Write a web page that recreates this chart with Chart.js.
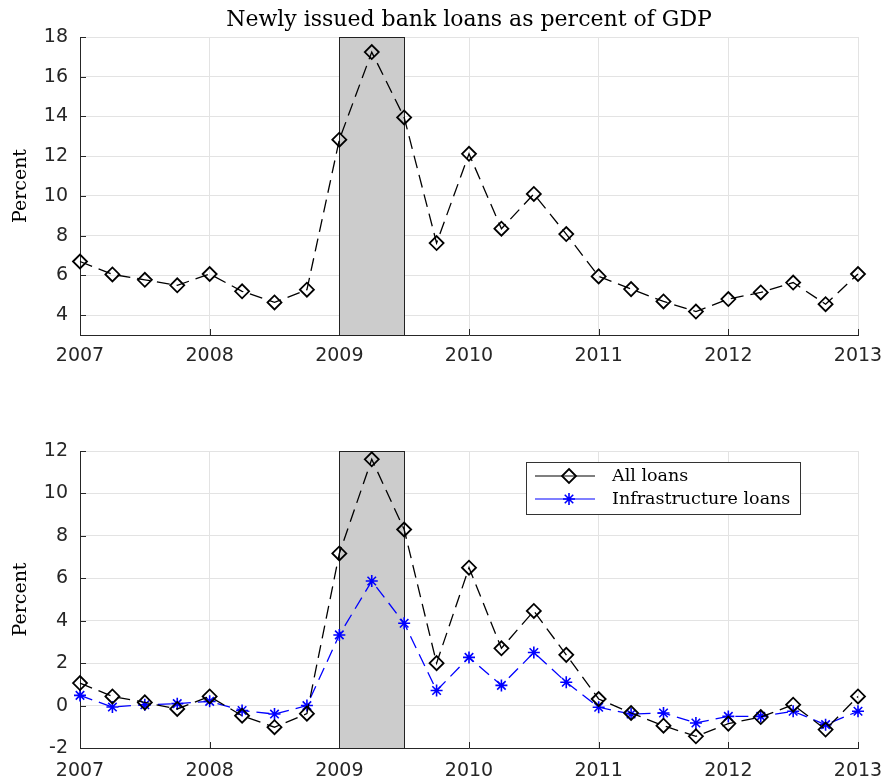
<!DOCTYPE html>
<html>
<head>
<meta charset="utf-8">
<script src="https://cdn.jsdelivr.net/npm/chart.js@4.4.1/dist/chart.umd.min.js"></script>
<style>
  html, body { margin: 0; padding: 0; background: #fff; }
  #wrap { position: relative; width: 884px; height: 782px; }
  .box { position: absolute; left: 0; width: 884px; }
  #top { top: 0; height: 380px; }
  #bot { top: 400px; height: 382px; }
</style>
</head>
<body>
<div id="wrap">
  <div class="box" id="top"><canvas id="c1"></canvas></div>
  <div class="box" id="bot"><canvas id="c2"></canvas></div>
</div>
<script>
const quarters = [2007, 2007.25, 2007.5, 2007.75, 2008, 2008.25, 2008.5, 2008.75,
  2009, 2009.25, 2009.5, 2009.75, 2010, 2010.25, 2010.5, 2010.75,
  2011, 2011.25, 2011.5, 2011.75, 2012, 2012.25, 2012.5, 2012.75, 2013];

const loansGdp = [6.7, 6.05, 5.78, 5.5, 6.07, 5.2, 4.64, 5.28,
  12.83, 17.24, 13.95, 7.63, 12.12, 8.35, 10.1, 8.08,
  5.95, 5.31, 4.69, 4.18, 4.81, 5.14, 5.64, 4.55, 6.07];

const allLoans = [1.06, 0.43, 0.15, -0.16, 0.43, -0.48, -1.02, -0.38,
  7.17, 11.61, 8.3, 2.0, 6.5, 2.7, 4.46, 2.39,
  0.31, -0.35, -0.95, -1.45, -0.85, -0.54, 0.04, -1.13, 0.43];

const infraLoans = [0.48, -0.07, 0.04, 0.09, 0.2, -0.23, -0.4, 0.0,
  3.33, 5.87, 3.88, 0.71, 2.27, 0.95, 2.5, 1.1,
  -0.08, -0.4, -0.35, -0.82, -0.51, -0.51, -0.27, -0.9, -0.27];

const yearTicks = [2007, 2008, 2009, 2010, 2011, 2012, 2013];
const topYTicks = [4, 6, 8, 10, 12, 14, 16, 18];
const botYTicks = [-2, 0, 2, 4, 6, 8, 10, 12];
const shadeStart = 2009, shadeEnd = 2009.5;

const titleText = "Newly issued bank loans as percent of GDP";
const yTitle = "Percent";
const legendNames = ["All loans", "Infrastructure loans"];

const AXIS = "#262626", GRID = "#e3e3e3";
const SERIF = "'DejaVu Serif', serif";
const SANS = "'DejaVu Sans', sans-serif";

function pts(vals) {
  return quarters.map((q, i) => ({ x: q, y: vals[i] }));
}

function diamond(ctx, x, y, r) {
  ctx.beginPath();
  ctx.moveTo(x, y - r); ctx.lineTo(x + r, y); ctx.lineTo(x, y + r); ctx.lineTo(x - r, y);
  ctx.closePath(); ctx.stroke();
}
function star(ctx, x, y, r) {
  ctx.beginPath();
  for (let k = 0; k < 4; k++) {
    const a = k * Math.PI / 4;
    ctx.moveTo(x - r * Math.cos(a), y - r * Math.sin(a));
    ctx.lineTo(x + r * Math.cos(a), y + r * Math.sin(a));
  }
  ctx.stroke();
}

const decor = {
  id: "decor",
  beforeDatasetsDraw(chart, args, opts) {
    const { ctx, chartArea: a, scales: { x } } = chart;
    const x0 = x.getPixelForValue(shadeStart), x1 = x.getPixelForValue(shadeEnd);
    ctx.save();
    ctx.fillStyle = "#cccccc";
    ctx.fillRect(x0, a.top, x1 - x0, a.bottom - a.top);
    ctx.strokeStyle = "#222";
    ctx.lineWidth = 1;
    ctx.strokeRect(Math.round(x0) + 0.5, Math.round(a.top) + 0.5, Math.round(x1 - x0), Math.round(a.bottom - a.top));
    ctx.restore();
  },
  afterDraw(chart, args, opts) {
    const { ctx, chartArea: a, scales: { x, y } } = chart;
    ctx.save();
    // inward tick marks
    ctx.strokeStyle = AXIS; ctx.lineWidth = 1;
    ctx.beginPath();
    yearTicks.forEach(v => {
      const px = Math.round(x.getPixelForValue(v)) + 0.5;
      ctx.moveTo(px, a.bottom); ctx.lineTo(px, a.bottom - 6);
    });
    opts.yTicks.forEach(v => {
      const py = Math.round(y.getPixelForValue(v)) + 0.5;
      ctx.moveTo(a.left, py); ctx.lineTo(a.left + 6, py);
    });
    ctx.stroke();

    ctx.fillStyle = "#000";
    if (opts.title) {
      ctx.font = "22px " + SERIF;
      ctx.textAlign = "center"; ctx.textBaseline = "middle";
      ctx.fillText(opts.title, (a.left + a.right) / 2, 20);
    }
    // y axis title
    ctx.save();
    ctx.translate(21, (a.top + a.bottom) / 2);
    ctx.rotate(-Math.PI / 2);
    ctx.font = "19px " + SERIF;
    ctx.textAlign = "center"; ctx.textBaseline = "middle";
    ctx.fillText(yTitle, 0, 0);
    ctx.restore();

    if (opts.legend) {
      const bx = 526, by = 62, bw = 274, bh = 52;
      ctx.fillStyle = "#fff";
      ctx.fillRect(bx, by, bw, bh);
      ctx.strokeStyle = "#333"; ctx.lineWidth = 1;
      ctx.strokeRect(bx + 0.5, by + 0.5, bw, bh);
      const rows = [
        { c: "#000", m: diamond, r: 7, w: 1.8 },
        { c: "#0000ff", m: star, r: 6, w: 1.6 }
      ];
      rows.forEach((s, i) => {
        const ly = by + 14 + i * 23;
        ctx.strokeStyle = s.c; ctx.lineWidth = 1.2;
        ctx.beginPath(); ctx.moveTo(535, ly); ctx.lineTo(595, ly); ctx.stroke();
        ctx.lineWidth = s.w;
        s.m(ctx, 569, ly, s.r);
        ctx.fillStyle = "#000";
        ctx.font = "17.5px " + SERIF;
        ctx.textAlign = "left"; ctx.textBaseline = "middle";
        ctx.fillText(legendNames[i], 612, ly);
      });
    }
    ctx.restore();
  }
};

function makeChart(id, datasets, yMin, yMax, yTicks, padTop, axisH, labelPad, extra) {
  return new Chart(document.getElementById(id), {
    type: "line",
    data: { datasets },
    options: {
      responsive: true,
      maintainAspectRatio: false,
      animation: false,
      layout: { padding: { top: padTop, right: 26, left: 0, bottom: 0 } },
      plugins: {
        legend: { display: false },
        tooltip: { enabled: false },
        decor: Object.assign({ yTicks }, extra)
      },
      scales: {
        x: {
          type: "linear", min: 2007, max: 2013,
          afterBuildTicks: s => { s.ticks = yearTicks.map(v => ({ value: v })); },
          afterFit: s => { s.height = axisH; s.paddingLeft = 0; s.paddingRight = 0; },
          grid: { color: GRID, tickLength: 0, lineWidth: 1 },
          border: { color: AXIS, width: 1 },
          ticks: { color: AXIS, font: { family: SANS, size: 19 }, padding: labelPad, maxRotation: 0,
            callback: v => String(v) }
        },
        y: {
          min: yMin, max: yMax,
          afterBuildTicks: s => { s.ticks = yTicks.map(v => ({ value: v })); },
          afterFit: s => { s.width = 80; s.paddingTop = 0; s.paddingBottom = 0; },
          grid: { color: GRID, tickLength: 0, lineWidth: 1 },
          border: { color: AXIS, width: 1 },
          ticks: { color: AXIS, font: { family: SANS, size: 19 }, padding: 12 }
        }
      }
    },
    plugins: [decor]
  });
}

const lineStyle = {
  showLine: true,
  borderWidth: 1.3,
  borderDash: [13, 7],
  clip: false,
  pointBackgroundColor: "rgba(0,0,0,0)"
};

makeChart("c1", [
  Object.assign({}, lineStyle, {
    label: legendNames[0], data: pts(loansGdp),
    borderColor: "#000", pointBorderColor: "#000",
    pointStyle: "rectRot", pointRadius: 7, pointBorderWidth: 1.8
  })
], 3, 18, topYTicks, 37, 45, 10, { title: titleText });

makeChart("c2", [
  Object.assign({}, lineStyle, {
    label: legendNames[0], data: pts(allLoans),
    borderColor: "#000", pointBorderColor: "#000",
    pointStyle: "rectRot", pointRadius: 7, pointBorderWidth: 1.8
  }),
  Object.assign({}, lineStyle, {
    label: legendNames[1], data: pts(infraLoans),
    borderColor: "#0000ff", pointBorderColor: "#0000ff",
    pointStyle: "star", pointRadius: 6, pointBorderWidth: 1.6
  })
], -2, 12, botYTicks, 51, 34, 12, { legend: true });
</script>
</body>
</html>
